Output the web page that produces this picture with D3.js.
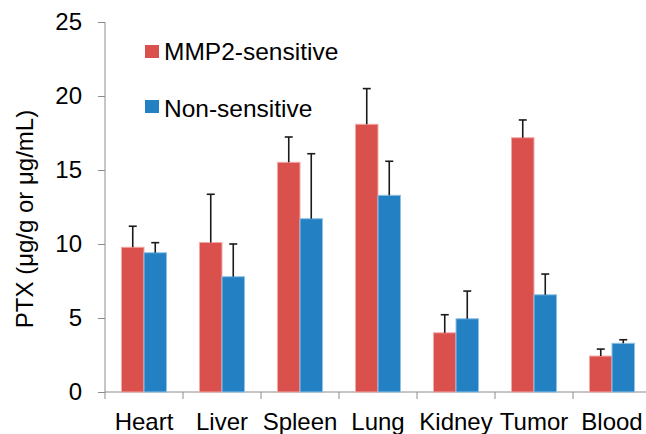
<!DOCTYPE html>
<html>
<head>
<meta charset="utf-8">
<script src="https://d3js.org/d3.v7.min.js"></script>
<style>
  body { margin: 0; background: #fff; }
  text { font-family: "Liberation Sans", Arial, sans-serif; fill: #000; }
</style>
</head>
<body>
<div id="chart"></div>
<script>
// Data
let organs = ["Heart", "Liver", "Spleen", "Lung", "Kidney", "Tumor", "Blood"];
let groups = ["MMP2-sensitive", "Non-sensitive"];
let sensitive = [9.78, 10.1, 15.52, 18.09, 4.0, 17.18, 2.43];
let sensitiveErr = [1.42, 3.26, 1.71, 2.41, 1.22, 1.2, 0.47];
let nonSensitive = [9.41, 7.79, 11.71, 13.29, 4.95, 6.57, 3.29];
let nonSensitiveErr = [0.68, 2.21, 4.39, 2.3, 1.87, 1.4, 0.24];
let yTicks = [0, 5, 10, 15, 20, 25];

// Set up conventions
let width = 646;
let height = 434;
let margin = ({top: 22, left: 105, bottom: 42});
let colors = ["#d9504c", "#2381c3"];
let strokes = ["#f2a9a6", "#8fc1e6"];

let svg = d3.select("#chart")
    .append("svg")
    .attr("width", width)
    .attr("height", height)

// Scales
let xScale = d3.scaleBand()
    .domain(organs)
    .range([margin.left, margin.left + 7 * 78])

let xInner = d3.scaleBand()
    .domain(groups)
    .range([0, xScale.bandwidth()])
    .paddingInner(0)
    .paddingOuter(0.733)

let yScale = d3.scaleLinear()
    .domain([0, 25])
    .range([height - margin.bottom, margin.top])

// Axes
let yAxis = d3.axisLeft(yScale).tickValues(yTicks).tickSize(7).tickPadding(16)
let xAxis = d3.axisBottom(xScale).tickSize(0).tickPadding(21)

let yG = svg.append("g")
    .attr("transform", "translate(" + margin.left + ",0)")
    .call(yAxis)
yG.select(".domain").attr("stroke", "#8c8c8c").attr("d", "M0," + yScale(25) + "V" + yScale(0))
yG.selectAll(".tick line").attr("stroke", "#8c8c8c")
yG.selectAll(".tick text").attr("font-size", 24).attr("font-family", "Liberation Sans, Arial, sans-serif").attr("fill", "#000")

let xG = svg.append("g")
    .attr("transform", "translate(0," + yScale(0) + ")")
    .call(xAxis)
xG.select(".domain").attr("stroke", "#8c8c8c").attr("d", "M" + margin.left + ",0H" + width)
xG.selectAll(".tick text")
    .attr("font-size", 24)
    .attr("font-family", "Liberation Sans, Arial, sans-serif")
    .attr("fill", "#000")

// boundary ticks between categories
svg.append("g")
    .selectAll("line")
    .data(organs)
    .enter()
    .append("line")
    .attr("x1", d => xScale(d))
    .attr("x2", d => xScale(d))
    .attr("y1", yScale(0))
    .attr("y2", yScale(0) + 7)
    .attr("stroke", "#8c8c8c")

// Bars
let series = [
    {name: groups[0], values: sensitive, err: sensitiveErr},
    {name: groups[1], values: nonSensitive, err: nonSensitiveErr}
];

series.forEach((s, i) => {
    let g = svg.append("g")
    g.selectAll("rect")
        .data(organs)
        .enter()
        .append("rect")
        .attr("x", d => xScale(d) + xInner(s.name))
        .attr("width", xInner.bandwidth())
        .attr("y", (d, j) => yScale(s.values[j]))
        .attr("height", (d, j) => yScale(0) - yScale(s.values[j]))
        .attr("fill", colors[i])
        .attr("stroke", strokes[i])
        .attr("stroke-width", 1)

    // Error bars (upper only)
    let eb = svg.append("g").attr("stroke", "#1a1a1a").attr("stroke-width", 1.6)
    organs.forEach((d, j) => {
        let cx = xScale(d) + xInner(s.name) + xInner.bandwidth() / 2
        let top = yScale(s.values[j] + s.err[j])
        eb.append("line")
            .attr("x1", cx).attr("x2", cx)
            .attr("y1", yScale(s.values[j])).attr("y2", top)
        eb.append("line")
            .attr("x1", cx - 4).attr("x2", cx + 4)
            .attr("y1", top).attr("y2", top)
    })
})

// Legend
let legend = svg.append("g")
groups.forEach((name, i) => {
    legend.append("rect")
        .attr("x", 145)
        .attr("y", 45 + i * 55)
        .attr("width", 14)
        .attr("height", 13)
        .attr("fill", colors[i])
    legend.append("text")
        .attr("x", 164)
        .attr("y", 59.5 + i * 57)
        .attr("font-size", 24.5)
        .text(name)
})

// Y axis title
svg.append("text")
    .attr("transform", "translate(33,219) rotate(-90)")
    .attr("text-anchor", "middle")
    .attr("font-size", 24)
    .text("PTX (μg/g or μg/mL)")
</script>
</body>
</html>
